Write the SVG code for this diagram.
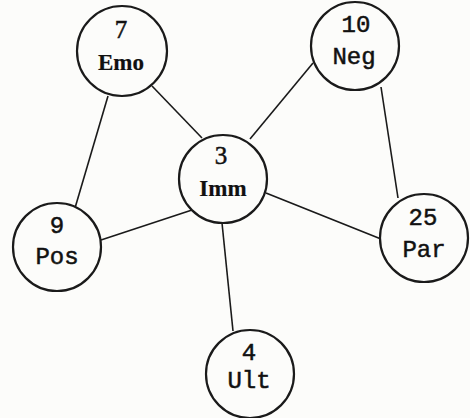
<svg xmlns="http://www.w3.org/2000/svg" width="470" height="418" viewBox="0 0 470 418">
<style>
.bg{fill:#fcfcfa}
.n{fill:#fcfcfa;stroke:#1a1a1a;stroke-width:2.2}
.e{stroke:#1a1a1a;stroke-width:1.6;fill:none}
.t{fill:#111;text-anchor:middle;stroke:#111;stroke-width:0.5}
.m{font-family:"Liberation Mono","DejaVu Sans Mono",monospace;font-size:24px}
.s{font-family:"Liberation Serif","DejaVu Serif",serif;font-size:23px;font-weight:bold;stroke-width:0.2}
.d{font-family:"Liberation Serif","DejaVu Serif",serif;font-size:25px}
</style>
<rect class="bg" width="470" height="418"/>
<g id="edges">
<line class="e" x1="152" y1="86" x2="202" y2="138"/>
<line class="e" x1="108" y1="96" x2="75" y2="208"/>
<line class="e" x1="313" y1="63" x2="250" y2="139"/>
<line class="e" x1="381" y1="87" x2="398" y2="198"/>
<line class="e" x1="192" y1="210" x2="101" y2="240"/>
<line class="e" x1="266" y1="193" x2="381" y2="239"/>
<line class="e" x1="222" y1="223" x2="233" y2="331"/>
</g>
<g id="emo"><circle class="n" cx="122" cy="51" r="45"/><text class="t d" x="121" y="38">7</text><text class="t s" x="121" y="70">Emo</text></g>
<g id="neg"><circle class="n" cx="355" cy="46" r="44"/><text class="t m" x="356" y="32">10</text><text class="t m" x="354" y="64">Neg</text></g>
<g id="imm"><circle class="n" cx="223" cy="179" r="44"/><text class="t d" x="221" y="164">3</text><text class="t s" x="223" y="196">Imm</text></g>
<g id="pos"><circle class="n" cx="57" cy="247" r="44"/><text class="t m" x="57" y="233">9</text><text class="t m" x="57" y="264">Pos</text></g>
<g id="par"><circle class="n" cx="424" cy="238" r="44"/><text class="t m" x="423" y="225">25</text><text class="t m" x="424" y="257">Par</text></g>
<g id="ult"><circle class="n" cx="250" cy="374" r="44"/><text class="t m" x="249" y="360">4</text><text class="t m" x="249" y="388">Ult</text></g>
</svg>
